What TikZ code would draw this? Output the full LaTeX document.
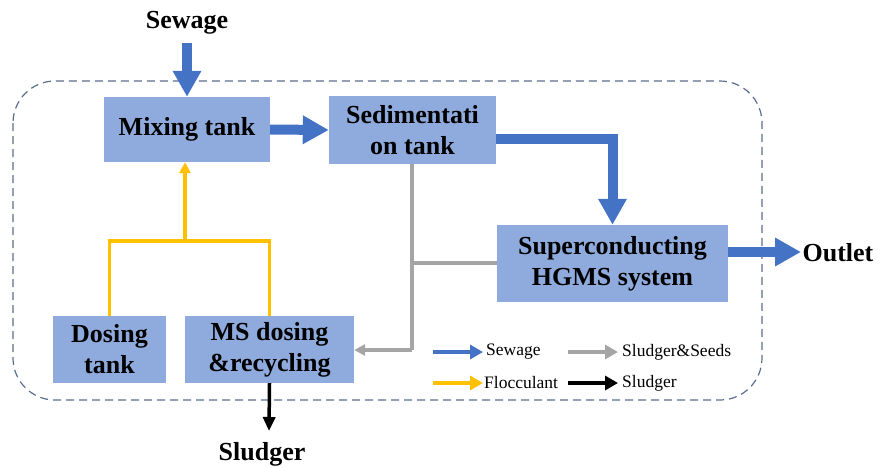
\documentclass[tikz,border=0pt]{standalone}
\usepackage{fontspec}
\setmainfont{Liberation Serif}
\usetikzlibrary{arrows.meta}
\definecolor{boxfill}{HTML}{8FAADC}
\definecolor{flowblue}{HTML}{4472C4}
\definecolor{flocyellow}{HTML}{FFC000}
\definecolor{sludgrey}{HTML}{A5A5A5}
\definecolor{frameblue}{HTML}{5A6E8C}
\begin{document}
\begin{tikzpicture}[x=1pt,y=-1pt,
  unitbox/.style={fill=boxfill, inner sep=0pt, align=center,
    font=\fontsize{26}{31}\selectfont\bfseries},
  bigblue/.style={draw=flowblue, line width=10pt, line join=miter,
    -{Triangle[width=27pt,length=26pt]}},
  yellowline/.style={draw=flocyellow, line width=3.5pt},
  yellowarrow/.style={yellowline, -{Triangle[width=11pt,length=11pt]}},
  greyline/.style={draw=sludgrey, line width=3.5pt},
  greyarrow/.style={greyline, -{Triangle[width=11pt,length=11pt]}},
  blackarrow/.style={draw=black, line width=3.5pt, -{Triangle[width=12pt,length=14pt]}},
  legarrow/.style={line width=4.5pt, -{Triangle[width=14pt,length=13pt]}},
  legtext/.style={font=\fontsize{17.5}{20}\selectfont, anchor=west, inner sep=0pt},
  outtext/.style={font=\fontsize{26}{30}\selectfont\bfseries, inner sep=0pt},
]
\useasboundingbox (0,0) rectangle (883,467);

% dashed frame
\draw[frameblue, line width=1.2pt, dash pattern=on 8pt off 5pt, rounded corners=42pt]
  (13,81) rectangle (762,400);

% boxes
\node[unitbox, minimum width=166pt, minimum height=65pt] (mix) at (187,129.5) {Mixing tank};
\node[unitbox, minimum width=167pt, minimum height=68pt] (sed) at (412.5,130) {Sedimentati\\on tank};
\node[unitbox, minimum width=231pt, minimum height=77pt] (hgms) at (612.5,263.5) {Superconducting\\HGMS system};
\node[unitbox, minimum width=113pt, minimum height=67pt] (dose) at (109.5,349.5) {Dosing\\tank};
\node[unitbox, minimum width=169pt, minimum height=67pt] (ms) at (269.5,349.5) {MS dosing\\\&recycling};

% external labels
\node[outtext] (sewage) at (187,23) {Sewage};
\node[outtext] (outlet) at (838,253) {Outlet};
\node[outtext] (sludger) at (262,454) {Sludger};

% sewage flow
\coordinate (sin) at (187,43);
\draw[bigblue] (sin) -- (mix.north);
\draw[bigblue] (mix.east) -- (sed.west);
\coordinate (turn) at (612.5,139);
\draw[bigblue] (sed.east |- turn) -| (hgms.north);
\coordinate (oend) at (801,252);
\draw[bigblue] (hgms.east |- oend) -- (oend);

% flocculant
\coordinate (yj) at (185,241);
\draw[yellowline] (dose.north) |- (yj) -| (ms.north);
\draw[yellowarrow] (yj) -- (mix.south -| yj);

% sludger & seeds
\coordinate (gtop) at (412,350);
\draw[greyline] (sed.south -| gtop) -- (gtop);
\draw[greyarrow] (gtop) -- (ms.east |- gtop);
\coordinate (gj) at (412,263);
\draw[greyline] (hgms.west |- gj) -- (gj);

% sludger out
\coordinate (send) at (269,431);
\draw[blackarrow] (ms.south) -- (send);

% legend
\coordinate (l1a) at (433,352); \coordinate (l1b) at (483,352);
\coordinate (l2a) at (568,352); \coordinate (l2b) at (618,352);
\coordinate (l3a) at (433,383); \coordinate (l3b) at (483,383);
\coordinate (l4a) at (568,383); \coordinate (l4b) at (618,383);
\draw[legarrow, draw=flowblue, fill=flowblue] (l1a) -- (l1b);
\draw[legarrow, draw=sludgrey, fill=sludgrey] (l2a) -- (l2b);
\draw[legarrow, draw=flocyellow, fill=flocyellow] (l3a) -- (l3b);
\draw[legarrow, draw=black, fill=black] (l4a) -- (l4b);
\node[legtext] (t1) at (486,352) {Sewage};
\node[legtext] (t2) at (622,352) {Sludger\&Seeds};
\node[legtext] (t3) at (484,383) {Flocculant};
\node[legtext] (t4) at (622,383) {Sludger};
\end{tikzpicture}
\end{document}
